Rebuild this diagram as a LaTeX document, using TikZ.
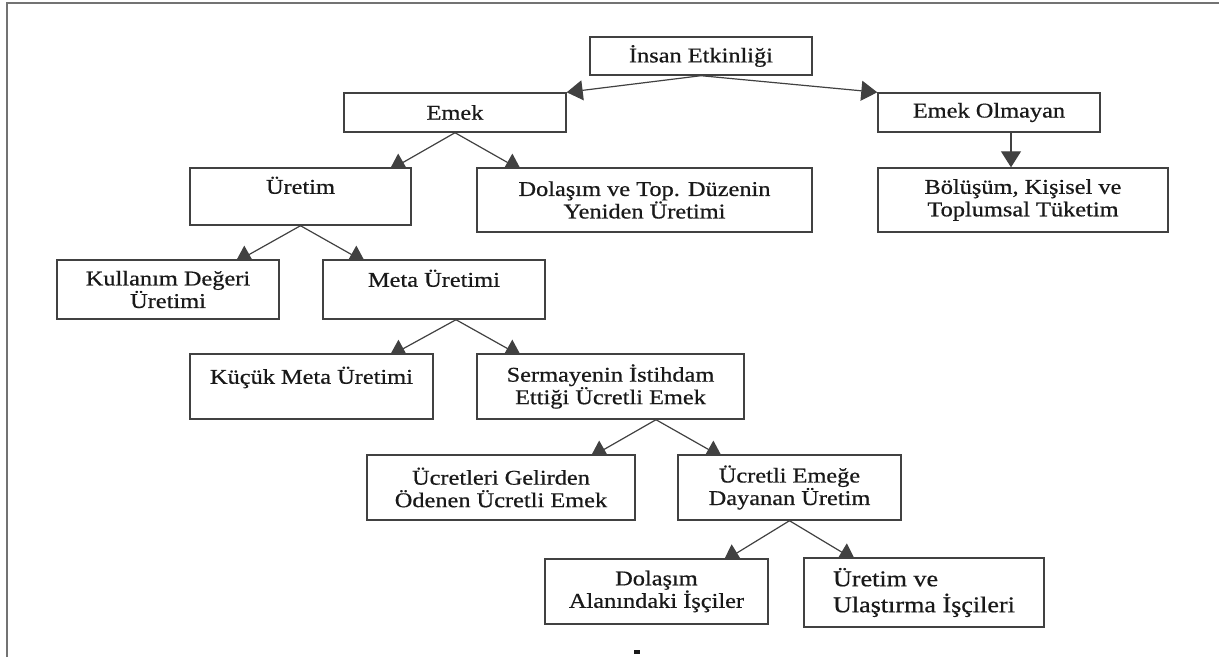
\documentclass[tikz,border=0pt]{standalone}
\usepackage{fontspec}
\setmainfont{Liberation Serif}[FakeStretch=1.16, FakeBold=0.6]
\usetikzlibrary{arrows.meta,backgrounds}
\definecolor{linegray}{RGB}{65,65,65}
\definecolor{framegray}{RGB}{115,115,115}
\definecolor{textgray}{RGB}{25,25,25}

\begin{document}
\begin{tikzpicture}[x=1pt, y=-1pt,
    box/.style={draw=linegray, line width=1.4pt, fill=white, inner sep=0pt, align=center,
        text=textgray, font=\fontsize{21}{22.5}\selectfont},
    arr/.style={draw=linegray, line width=1.2pt, -{Triangle[length=16pt, width=20pt]}}]
    \useasboundingbox (0, 0) rectangle (1219, 657);
    \draw[framegray, line width=1.5pt] (7, 657) -- (7, 3) -- (1219, 3);

    \node (n0) at (701, 56) [box, minimum width=222pt, minimum height=38pt] {İnsan Etkinliği};
    \node (n1) at (455, 112.5) [box, minimum width=222pt, minimum height=39pt] {Emek};
    \node (n2) at (989, 112.5) [box, minimum width=222pt, minimum height=39pt] {Emek Olmayan};
    \node (n3) at (300.5, 196.5) [box, minimum width=221pt, minimum height=57pt] {Üretim\\~};
    \node (n4) at (644.5, 200) [box, minimum width=335pt, minimum height=64pt] {Dolaşım ve Top. Düzenin\\Yeniden Üretimi};
    \node (n5) at (1023, 200) [box, minimum width=290pt, minimum height=64pt] {Bölüşüm, Kişisel ve\\Toplumsal Tüketim};
    \node (n6) at (168, 289.5) [box, minimum width=222pt, minimum height=59pt] {Kullanım Değeri\\Üretimi};
    \node (n7) at (434, 289.5) [box, minimum width=222pt, minimum height=59pt] {Meta Üretimi\\~};
    \node (n8) at (311.5, 386.5) [box, minimum width=243pt, minimum height=65pt] {Küçük Meta Üretimi\\~};
    \node (n9) at (610.5, 386.5) [box, minimum width=267pt, minimum height=65pt] {Sermayenin İstihdam\\Ettiği Ücretli Emek};
    \node (n10) at (501, 487.5) [box, minimum width=268pt, minimum height=65pt] {Ücretleri Gelirden\\Ödenen Ücretli Emek};
    \node (n11) at (789.5, 487.5) [box, minimum width=223pt, minimum height=65pt] {Ücretli Emeğe\\Dayanan Üretim};
    \node (n12) at (656.5, 591.5) [box, minimum width=223pt, minimum height=65pt] {Dolaşım\\Alanındaki İşçiler};
    \node (n13) at (924, 592.5) [box, minimum width=240pt, minimum height=69pt, align=left,
        font=\fontsize{22.5}{26}\selectfont] {Üretim ve\\Ulaştırma İşçileri};

    \begin{pgfonlayer}{background}
        \draw[arr] (n0.south) -- (n1.north east);
        \draw[arr] (n0.south) -- (n2.north west);
        \draw[arr] ([xshift=22pt]n2.south) -- ([xshift=22pt]n2.south |- n5.north);

        \draw[arr] (n1.south) -- ([xshift=200pt, yshift=-3pt]n3.north west);
        \draw[arr] (n1.south) -- ([xshift=45pt, yshift=-3pt]n4.north west);

        \draw[arr] (n3.south) -- ([xshift=179pt, yshift=-3pt]n6.north west);
        \draw[arr] (n3.south) -- ([xshift=43pt, yshift=-3pt]n7.north west);

        \draw[arr] ([xshift=22pt]n7.south) -- ([xshift=200pt, yshift=-3pt]n8.north west);
        \draw[arr] ([xshift=22pt]n7.south) -- ([xshift=45pt, yshift=-3pt]n9.north west);

        \draw[arr] ([xshift=45.5pt]n9.south) -- ([xshift=224pt, yshift=-3pt]n10.north west);
        \draw[arr] ([xshift=45.5pt]n9.south) -- ([xshift=45pt, yshift=-3pt]n11.north west);

        \draw[arr] (n11.south) -- ([xshift=179pt, yshift=-3pt]n12.north west);
        \draw[arr] (n11.south) -- ([xshift=52pt, yshift=-3pt]n13.north west);
    \end{pgfonlayer}

    \fill[textgray] (634, 650) rectangle (640, 653.5);
\end{tikzpicture}
\end{document}
